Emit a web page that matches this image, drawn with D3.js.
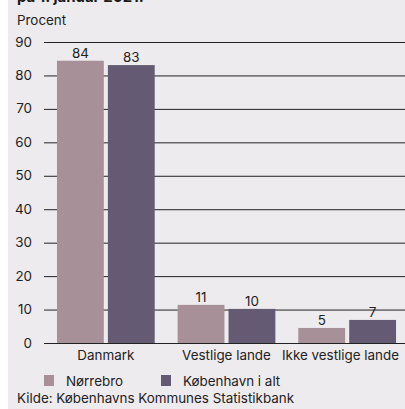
<!DOCTYPE html>
<html><head><meta charset="utf-8">
<script src="https://cdn.jsdelivr.net/npm/d3@7"></script>
<style>
html,body{margin:0;padding:0;background:#fff;}
svg{display:block;}
text{font-family:Inter, "Open Sans", sans-serif;}
</style></head>
<body><div id="chart"></div>
<script>
const categories = ["Danmark", "Vestlige lande", "Ikke vestlige lande"];
const seriesNames = ["Nørrebro", "København i alt"];
const norrebro = [84.4, 11.4, 4.5];
const kobenhavn = [83.1, 10.2, 6.9];
const yTicks = [0, 10, 20, 30, 40, 50, 60, 70, 80, 90];
const colors = ["#a79097", "#655a73"];
const title = "på 1. januar 2021.";
const unitLabel = "Procent";
const source = "Kilde: Københavns Kommunes Statistikbank";

const W = 405, H = 409, FS = 13.4;
const svg = d3.select("#chart").append("svg").attr("width", W).attr("height", H);
svg.append("rect").attr("x", 8).attr("y", 0).attr("width", W - 8).attr("height", H).attr("fill", "#eeebee");

const y = d3.scaleLinear().domain([0, 90]).range([343, 42]);
const x0 = d3.scaleBand().domain(categories).range([45.5, 407.5]).paddingInner(0.19).paddingOuter(0.095);
const x1 = d3.scaleBand().domain(seriesNames).range([0, x0.bandwidth()]).paddingInner(0.08);

// title (clipped at top, as in the reference)
svg.append("text").attr("x", 17).attr("y", 2).attr("font-size", 15).attr("font-weight", 700)
  .attr("fill", "#1a1a1a").text(title);
svg.append("text").attr("x", 17).attr("y", 24.5).attr("font-size", FS).attr("fill", "#222").text(unitLabel);

// grid + ticks
const axis = d3.axisLeft(y).tickValues(yTicks).tickSize(-(W - 44)).tickPadding(12).tickFormat(d3.format("d"));
const g = svg.append("g").attr("transform", "translate(44,0)").call(axis);
g.select(".domain").remove();
g.selectAll(".tick line").attr("stroke", "#222").attr("stroke-width", 1);
g.selectAll(".tick text").attr("font-size", FS).attr("fill", "#222").attr("font-family", "Inter, sans-serif").attr("dy", "0.3em");

// bars
const data = categories.map((c, i) => ({cat: c, vals: [norrebro[i], kobenhavn[i]]}));
const grp = svg.selectAll(".grp").data(data).enter().append("g")
  .attr("transform", d => `translate(${x0(d.cat)},0)`);
grp.selectAll("rect").data(d => d.vals.map((v, j) => ({s: seriesNames[j], v, j}))).enter().append("rect")
  .attr("x", d => x1(d.s)).attr("width", x1.bandwidth())
  .attr("y", d => y(d.v)).attr("height", d => y(0) - y(d.v))
  .attr("fill", d => colors[d.j]);
grp.selectAll(".lbl").data(d => d.vals.map((v, j) => ({s: seriesNames[j], v, j}))).enter().append("text")
  .attr("x", d => x1(d.s) + x1.bandwidth() / 2).attr("y", d => y(d.v) - 3)
  .attr("text-anchor", "middle").attr("font-size", FS).attr("fill", "#222")
  .text(d => Math.round(d.v));

// category labels (kept inside the right edge)
svg.selectAll(".cat").data(categories).enter().append("text")
  .attr("y", 360).attr("text-anchor", "middle").attr("font-size", FS).attr("fill", "#222").text(d => d)
  .attr("x", function(d) {
    const w = this.getComputedTextLength();
    return Math.min(x0(d) + x0.bandwidth() / 2, 399 - w / 2);
  });

// legend
const legX = [44, 161];
seriesNames.forEach((s, i) => {
  svg.append("rect").attr("x", legX[i]).attr("y", 375).attr("width", 10).attr("height", 11).attr("fill", colors[i]);
  svg.append("text").attr("x", legX[i] + 22).attr("y", 386).attr("font-size", FS).attr("fill", "#222").text(s);
});

svg.append("text").attr("x", 17).attr("y", 403).attr("font-size", FS).attr("fill", "#222").text(source);
</script></body></html>
